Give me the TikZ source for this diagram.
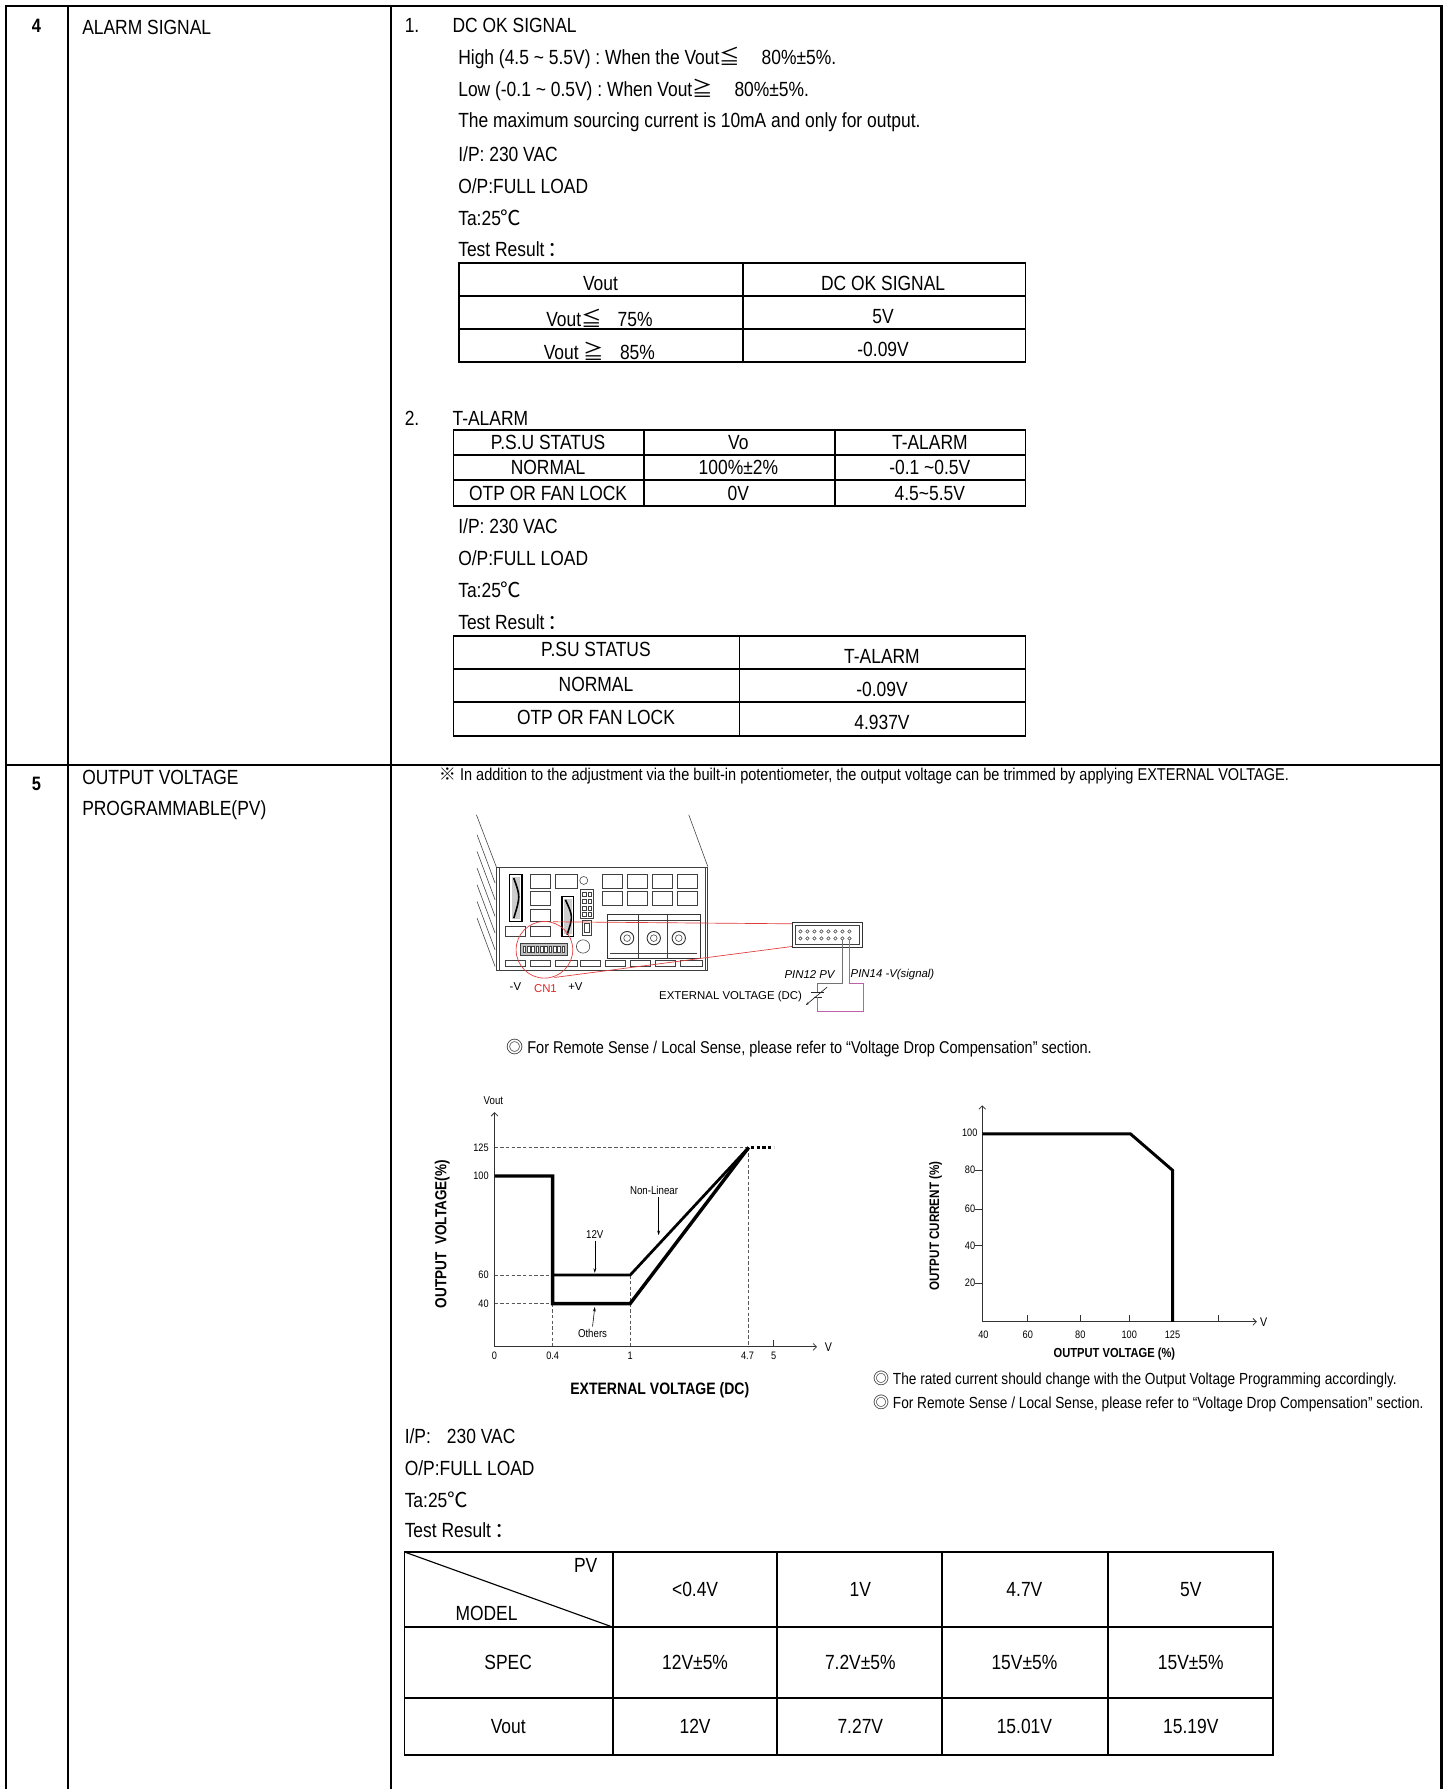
\documentclass[tikz,border=0pt]{standalone}
\usepackage{fontspec}
\setmainfont{Liberation Sans}[FakeStretch=0.85]
\newfontfamily\cjk{Noto Sans CJK SC}
\newfontfamily\plainsans{Liberation Sans}
\usetikzlibrary{arrows.meta}
\newcommand{\symle}{{\cjk ≦}}
\newcommand{\symge}{{\cjk ≧}}
\newcommand{\degC}{{\cjk ℃}}
\newcommand{\fcolon}{\hspace{3pt}{\cjk ：}}
\newcommand{\dcirc}{{\cjk ◎}}
\newcommand{\refmark}{{\cjk ※}}
\newcommand{\mainfs}{\fontsize{18}{18}\selectfont}
\newcommand{\numfs}{\fontsize{17}{17}\selectfont\bfseries}
\newcommand{\notefs}{\fontsize{15}{15}\selectfont}
\newcommand{\notesfs}{\fontsize{14.1}{14.1}\selectfont}
\newcommand{\tickfs}{\fontsize{9.5}{9.5}\selectfont}
\newcommand{\psufs}{\plainsans\fontsize{10}{10}\selectfont}
\begin{document}
\begin{tikzpicture}[x=1pt,y=-1pt,
  frame/.style={line width=1.8pt},
  tbl/.style={line width=1.6pt},
  txt/.style={anchor=west, inner sep=0pt, font=\mainfs},
  ctr/.style={anchor=center, inner sep=0pt, font=\mainfs},
  numtxt/.style={anchor=center, inner sep=0pt, font=\numfs},
  note/.style={anchor=west, inner sep=0pt, font=\notefs},
  notes/.style={anchor=west, inner sep=0pt, font=\notesfs},
  tick/.style={inner sep=0pt, font=\tickfs},
  axisl/.style={line width=0.7pt, draw=black!80},
  dashl/.style={line width=0.6pt, draw=black!65, dash pattern=on 3pt off 2pt},
  boldl/.style={line width=3pt, line join=miter},
  semib/.style={line width=2.4pt, line join=miter},
  psu/.style={draw=black!75, line width=0.5pt},
  psutxt/.style={inner sep=0pt, font=\psufs},
  pinkw/.style={draw={rgb,255:red,190;green,95;blue,170}, line width=0.7pt},
  redl/.style={draw={rgb,255:red,225;green,60;blue,60}, line width=0.6pt},
  ptr/.style={line width=0.5pt, -{Stealth[length=4pt,width=2.5pt]}}
]
\useasboundingbox (0,0) rectangle (1270,1570);
\fill[white] (0,0) rectangle (1270,1570);

% ---------- frame ----------
\draw[frame] (5,1571) -- (5,5) -- (1265,5) -- (1265,1571);
\draw[frame] (5,671) -- (1265,671);
\draw[frame] (60,5) -- (60,1571);
\draw[frame] (343,5) -- (343,1571);

% ---------- row 4 ----------
\node[numtxt] (n4) at (32,23) {4};
\node[txt] (alarm) at (72,24) {ALARM SIGNAL};
\node[txt] (i1) at (355,22) {1.};
\node[txt] (dcok) at (397,22) {DC OK SIGNAL};
\node[txt] (high) at (402,51) {High (4.5 \textasciitilde{} 5.5V) : When the Vout\symle\hspace{19pt}80\%±5\%.};
\node[txt] (low) at (402,79) {Low (-0.1 \textasciitilde{} 0.5V) : When Vout\symge\hspace{19pt}80\%±5\%.};
\node[txt] (maxs) at (402,107) {The maximum sourcing current is 10mA and only for output.};
\node[txt] (ip1) at (402,135) {I/P: 230 VAC};
\node[txt] (op1) at (402,163) {O/P:FULL LOAD};
\node[txt] (ta1) at (402,191) {Ta:25\degC};
\node[txt] (tr1) at (402,219) {Test Result\fcolon};

\draw[tbl] (403,231) rectangle (900,318);
\draw[tbl] (652,231) -- (652,318) (403,260) -- (900,260) (403,289) -- (900,289);
\node[ctr] (t1a) at (527,249) {Vout};
\node[ctr] (t1b) at (775,249) {DC OK SIGNAL};
\node[ctr] (t1c) at (526,279) {Vout\symle\hspace{14pt}75\%};
\node[ctr] (t1d) at (775,278) {5V};
\node[ctr] (t1e) at (526,308) {Vout \symge\hspace{14pt}85\%};
\node[ctr] (t1f) at (775,307) {-0.09V};

\node[txt] (i2) at (355,367) {2.};
\node[txt] (talarm) at (397,367) {T-ALARM};
\draw[tbl] (398,377) rectangle (900,444);
\draw[tbl] (565,377) -- (565,444) (733,377) -- (733,444) (398,399) -- (900,399) (398,421) -- (900,421);
\node[ctr] (t2a) at (481,388) {P.S.U STATUS};
\node[ctr] (t2b) at (648,388) {Vo};
\node[ctr] (t2c) at (816,388) {T-ALARM};
\node[ctr] (t2d) at (481,410) {NORMAL};
\node[ctr] (t2e) at (648,410) {100\%±2\%};
\node[ctr] (t2f) at (816,410) {-0.1 \textasciitilde0.5V};
\node[ctr] (t2g) at (481,433) {OTP OR FAN LOCK};
\node[ctr] (t2h) at (648,433) {0V};
\node[ctr] (t2i) at (816,433) {4.5\textasciitilde5.5V};

\node[txt] (ip2) at (402,462) {I/P: 230 VAC};
\node[txt] (op2) at (402,490) {O/P:FULL LOAD};
\node[txt] (ta2) at (402,518) {Ta:25\degC};
\node[txt] (tr2) at (402,546) {Test Result\fcolon};

\draw[tbl] (398,558) rectangle (900,646);
\draw[tbl] (649,558) -- (649,646) (398,587) -- (900,587) (398,616) -- (900,616);
\node[ctr] (t3a) at (523,570) {P.SU STATUS};
\node[ctr] (t3b) at (774,576) {T-ALARM};
\node[ctr] (t3c) at (523,601) {NORMAL};
\node[ctr] (t3d) at (774,605) {-0.09V};
\node[ctr] (t3e) at (523,630) {OTP OR FAN LOCK};
\node[ctr] (t3f) at (774,634) {4.937V};

% ---------- row 5 ----------
\node[numtxt] (n5) at (32,688) {5};
\node[txt] (ovp1) at (72,682) {OUTPUT VOLTAGE};
\node[txt] (ovp2) at (72,711) {PROGRAMMABLE(PV)};
\node[note] (remark) at (385,681) {\refmark\ In addition to the adjustment via the built-in potentiometer, the output voltage can be trimmed by applying EXTERNAL VOLTAGE.};

% ---------- PSU drawing ----------
\begin{scope}[shift={(409.9,704.8)}, scale=0.29256]
\draw[psu] (28,35) -- (88,192);
\draw[psu] (665,35) -- (722,190);
\foreach \o in {0,50,100,150,200,250} \draw[psu] (30,95+\o) -- (84,240+\o);
\draw[psu] (88,192) rectangle (722,500);
\draw[psu] (96,192) -- (96,500);
\draw[psu] (714,192) -- (714,500);
\foreach \a/\b in {190/250,265/330,405/465,480/540,555/615,630/690} \draw[psu] (\a,213) rectangle (\b,255);
\foreach \a/\b in {190/250,405/465,480/540,555/615,630/690} \draw[psu] (\a,265) rectangle (\b,305);
\draw[psu] (190,318) rectangle (250,355);
\draw[psu] (115,370) rectangle (175,400);
\draw[psu] (190,370) rectangle (250,400);
\foreach \a/\b in {115/175,190/250,265/330,340/400,415/475,490/550,565/625,640/705} \draw[psu] (\a,470) rectangle (\b,490);
% left switch
\draw[line width=1.1pt] (128,215) rectangle (165,355);
\fill[black!20] (134,222) rectangle (159,348);
\draw[line width=1.4pt] (140,225) .. controls (160,280) .. (140,345);
% knob and small connector
\draw[psu] (350,232) circle (12);
\draw[psu] (340,258) rectangle (380,345);
\foreach \r in {0,1,2,3} {\draw[psu] (347,268+20*\r) rectangle (357,280+20*\r); \draw[psu] (363,268+20*\r) rectangle (373,280+20*\r);}
\draw[psu] (347,352) rectangle (373,395);
\draw[psu] (353,360) rectangle (367,388);
% middle switch
\draw[line width=1.1pt] (285,280) rectangle (320,400);
\fill[black!20] (291,287) rectangle (314,393);
\draw[line width=1.4pt] (295,290) .. controls (318,340) .. (300,395);
\draw[psu] (348,430) circle (20);
% terminal block
\draw[draw=black!80, line width=0.8pt] (420,335) rectangle (700,465);
\draw[psu] (420,350) -- (700,350) (515,335) -- (515,465) (600,335) -- (600,465);
\draw[psu] (430,450) -- (690,450);
\foreach \x in {480,560,635} {\draw[draw=black!80, line width=0.8pt] (\x,405) circle (20); \draw[psu] (\x,405) circle (10);}
% CN1
\draw[psu, fill=black!25] (160,420) rectangle (300,455);
\foreach \k in {0,...,9} \draw[psu, fill=white] (168+13*\k,428) rectangle (176+13*\k,447);
% red zoom
\draw[redl] (232,440) circle (85);
\draw[redl] (258,356) -- (975,362);
\draw[redl] (262,523) -- (975,430);
% enlarged connector
\draw[draw=black!80, line width=0.8pt, fill=white] (975,358) rectangle (1185,432);
\draw[psu] (985,366) rectangle (1175,424);
\foreach \k in {0,...,7} {\draw[psu] (1000+21*\k,385) circle (5); \draw[psu] (1000+21*\k,406) circle (5);}
% wires
\draw[draw=black!55, line width=0.6pt] (1126,411) -- (1126,540) -- (1052,540) -- (1052,568);
\draw[draw=black!85, line width=0.8pt] (1032,568) -- (1072,568);
\draw[draw=black!85, line width=0.8pt] (1040,582) -- (1064,582);
\draw[draw=black!85, line width=0.6pt, -{Stealth[length=3pt,width=2pt]}] (1080,552) -- (1016,606);
\draw[pinkw] (1052,582) -- (1052,625) -- (1188,625) -- (1188,540) -- (1147,540) -- (1147,411);
% labels
\node[psutxt, anchor=east, font=\psufs\itshape] (pin12) at (1103,515) {PIN12 PV};
\node[psutxt, anchor=west, font=\psufs\itshape] (pin14) at (1150,515) {PIN14 -V(signal)};
\node[psutxt, anchor=east] (extv) at (1005,580) {EXTERNAL VOLTAGE (DC)};
\node[psutxt] (mv) at (145,550) {-V};
\node[psutxt, text={rgb,255:red,225;green,40;blue,40}] (cn1) at (235,555) {CN1};
\node[psutxt] (pv) at (325,550) {+V};
\end{scope}

\node[note] (rs1) at (444,920) {\dcirc\ For Remote Sense / Local Sense, please refer to “Voltage Drop Compensation” section.};

% ---------- left chart ----------
\draw[dashl] (434,1007) -- (657,1007);
\draw[dashl] (434,1119) -- (485,1119);
\draw[dashl] (434,1144) -- (485,1144);
\draw[dashl] (485,1144) -- (485,1182);
\draw[dashl] (553,1119) -- (553,1182);
\draw[dashl] (657,1007) -- (657,1182);
\draw[axisl, -{Straight Barb[length=3pt,width=6pt]}] (434,1182) -- (434,976);
\draw[axisl, -{Straight Barb[length=3pt,width=6pt]}] (434,1182) -- (717,1182);
\draw[axisl] (679,1182) -- (679,1176);
\draw[boldl] (434,1032) -- (485,1032) -- (485,1144) -- (553,1144) -- (657,1007);
\draw[semib] (485,1119) -- (553,1119) -- (657,1007);
\draw[line width=3pt, dash pattern=on 3pt off 2pt] (659,1007) -- (679,1007);
\node[tick] (vout) at (433,966) {\fontsize{10}{10}\selectfont Vout};
\node[tick] (vx1) at (727,1182) {\fontsize{11}{11}\selectfont V};
\node[tick, anchor=east] (y125) at (429,1007) {125};
\node[tick, anchor=east] (y100) at (429,1032) {100};
\node[tick, anchor=east] (y60) at (429,1119) {60};
\node[tick, anchor=east] (y40) at (429,1144) {40};
\node[tick] (x0) at (434,1190) {0};
\node[tick] (x04) at (485,1190) {0.4};
\node[tick] (x1) at (553,1190) {1};
\node[tick] (x47) at (656,1190) {4.7};
\node[tick] (x5) at (679,1190) {5};
\node[tick, font=\fontsize{10}{10}\selectfont] (nl) at (574,1045) {Non-Linear};
\node[tick, font=\fontsize{10}{10}\selectfont] (l12) at (522,1083) {12V};
\node[tick, font=\fontsize{10}{10}\selectfont] (oth) at (520,1170) {Others};
\coordinate (anl) at (578,1084);
\coordinate (a12) at (522,1117);
\coordinate (aoth) at (522,1147);
\draw[ptr] ([xshift=4pt,yshift=-2pt]nl.south) -- (anl);
\draw[ptr] ([yshift=-2pt]l12.south) -- (a12);
\draw[ptr] ([yshift=2pt]oth.north) -- (aoth);
\node[rotate=90, inner sep=0pt, font=\fontsize{14}{14}\selectfont\bfseries] (ylab1) at (388,1083) {OUTPUT\ \ VOLTAGE(\%)};
\node[inner sep=0pt, font=\fontsize{14.5}{14.5}\selectfont\bfseries] (xlab1) at (579,1220) {EXTERNAL VOLTAGE (DC)};

% ---------- right chart ----------
\draw[axisl, -{Straight Barb[length=3pt,width=6pt]}] (862,1160) -- (862,970);
\draw[axisl, -{Straight Barb[length=3pt,width=6pt]}] (862,1160) -- (1103,1160);
\foreach \y in {1027,1061,1093,1126} \draw[axisl] (856,\y) -- (862,\y);
\foreach \x in {902,948,991,1069} \draw[axisl] (\x,1160) -- (\x,1154);
\draw[line width=2.6pt, line join=miter] (862,995) -- (992,995) -- (1029,1027) -- (1029,1160);
\node[tick, anchor=east] (r100) at (858,994) {100};
\node[tick, anchor=east] (r80) at (856,1027) {80};
\node[tick, anchor=east] (r60) at (856,1061) {60};
\node[tick, anchor=east] (r40) at (856,1093) {40};
\node[tick, anchor=east] (r20) at (856,1126) {20};
\node[tick] (rx40) at (863,1171) {40};
\node[tick] (rx60) at (902,1171) {60};
\node[tick] (rx80) at (948,1171) {80};
\node[tick] (rx100) at (991,1171) {100};
\node[tick] (rx125) at (1029,1171) {125};
\node[tick] (vx2) at (1109,1160) {\fontsize{11}{11}\selectfont V};
\node[rotate=90, inner sep=0pt, font=\fontsize{12}{12}\selectfont\bfseries] (ylab2) at (821,1076) {OUTPUT CURRENT (\%)};
\node[inner sep=0pt, font=\fontsize{11.5}{11.5}\selectfont\bfseries] (xlab2) at (978,1188) {OUTPUT VOLTAGE (\%)};
\node[notes] (rc1) at (766,1211) {\dcirc\ The rated current should change with the Output Voltage Programming accordingly.};
\node[notes] (rc2) at (766,1232) {\dcirc\ For Remote Sense / Local Sense, please refer to “Voltage Drop Compensation” section.};

% ---------- bottom ----------
\node[txt] (ip3) at (355,1260) {I/P:\hspace{14pt}230 VAC};
\node[txt] (op3) at (355,1288) {O/P:FULL LOAD};
\node[txt] (ta3) at (355,1316) {Ta:25\degC};
\node[txt] (tr3) at (355,1343) {Test Result\fcolon};

\draw[tbl] (355,1362) rectangle (1117,1540);
\draw[tbl] (538,1362) -- (538,1540) (682,1362) -- (682,1540) (827,1362) -- (827,1540) (972,1362) -- (972,1540);
\draw[tbl] (355,1428) -- (1117,1428) (355,1490) -- (1117,1490);
\draw[line width=1pt] (355,1362) -- (538,1428);
\node[ctr] (pvh) at (514,1374) {PV};
\node[ctr] (modelh) at (427,1416) {MODEL};
\node[ctr] (c1) at (610,1395) {<0.4V};
\node[ctr] (c2) at (755,1395) {1V};
\node[ctr] (c3) at (899,1395) {4.7V};
\node[ctr] (c4) at (1045,1395) {5V};
\node[ctr] (spec) at (446,1459) {SPEC};
\node[ctr] (s1) at (610,1459) {12V±5\%};
\node[ctr] (s2) at (755,1459) {7.2V±5\%};
\node[ctr] (s3) at (899,1459) {15V±5\%};
\node[ctr] (s4) at (1045,1459) {15V±5\%};
\node[ctr] (voutr) at (446,1515) {Vout};
\node[ctr] (v1) at (610,1515) {12V};
\node[ctr] (v2) at (755,1515) {7.27V};
\node[ctr] (v3) at (899,1515) {15.01V};
\node[ctr] (v4) at (1045,1515) {15.19V};
\end{tikzpicture}
\end{document}
